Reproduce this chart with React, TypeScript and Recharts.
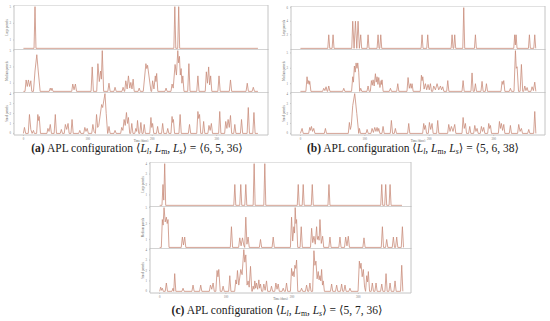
import React from 'react';
import { LineChart, Line, XAxis, YAxis, ReferenceArea } from 'recharts';

// x axis (days) shared by every panel
const dayTicks = [0, 100, 200, 300];
const dayDomain = [-14.6, 379.6];

// y tick labels
const ticks4 = [0, 1, 2, 3, 4];
const ticks5 = [0, 1, 2, 3, 4, 5];
const ticks6 = [0, 1, 2, 3, 4, 5, 6];

// (a) <6, 5, 36>  -- [day, parcels]
const aLarge = [[0,0],[16.5,0],[18,5],[19.5,0],[233.5,0],[235,5],[236.5,0],[239.5,0],[241,5],[242.5,0],[364,0]];
const aMedium = [[0,0],[2.5,0],[4.2,1.4],[6,0.6],[7.8,1.4],[9.6,0.6],[11.5,1.3],[13,0],[15.6,0],[18,2.5],[20.8,4.5],[23,2.5],[26,0],
  [40,0],[41.7,0.4],[43,0.1],[44.3,0.4],[46,0],[75,0],[76.6,0.9],[78.6,0.2],[80.7,0.9],[82.5,0],[105,0],[106.8,3.0],[108.6,0],
  [113.8,0],[115.6,3.4],[117.8,1.2],[119.8,2.5],[121,1.5],[122.4,5.0],[124.5,0],[131,0],[132.8,1.0],[134.6,0],[140.5,0],[142.2,0.5],[144,0],
  [153,0],[154.7,0.5],[156.5,0],[157.2,0],[158.9,1.3],[161,0.3],[163,1.9],[165,0.4],[166.7,1.1],[168.5,0.3],[170.3,1.5],[172,0],
  [178,0],[179.7,0.4],[181.4,0],[186,0],[190.1,3.4],[191.5,2.8],[192.7,3.2],[198,0],[199,0],[200.5,1.3],[202.6,0.3],[204.7,1.9],[205.7,1.2],[206.8,2.2],[208.6,0],
  [219.7,0],[221.4,0.4],[223,0],[229,0],[230.7,0.9],[232.5,0.4],[235.4,3.3],[237.5,2.0],[239.6,5.0],[240.9,3.5],[242.2,4.3],[243.5,2.0],[244.8,2.8],[246,1.0],[247.4,1.9],[249.2,0],
  [255,0],[256.8,3.4],[258.6,0],[269,0],[270.8,1.9],[272.6,0],[282.2,0],[283.9,2.4],[285.7,1.0],[287.5,3.0],[289,0.8],[290.6,1.9],[292.4,0],
  [301.8,0],[303.6,1.9],[305.4,0],[319.6,0],[321.4,1.4],[323.2,0],[345.6,0],[347.4,1.0],[349.2,0],[355,0],[356.8,0.5],[358.6,0],[364,0]];
const aSmall = [[0,0],[1.6,0.6],[3.5,0],[7.5,0],[9.4,1.9],[11.5,0.4],[13.5,0],[15.6,0.3],[17,0],[20.5,0],[22.4,1.9],[23.4,1.3],[24.5,1.7],[26.5,0],
  [36.5,0],[38,0.5],[39.8,0.2],[41.7,0.9],[43.5,0],[47.7,0],[49.5,1.9],[51.3,0],[57.2,0],[58.9,0.4],[60.6,0],
  [63.4,0],[65.1,0.9],[67.2,0.4],[69.3,1.0],[71,0],[73.8,0],[75.5,1.4],[77.3,0],[85.8,0],[87.5,0.3],[89.2,0],
  [93.6,0],[95.3,0.6],[97.1,0.2],[99,0.5],[100.8,0],[106,0],[107.8,0.9],[109.6,0.2],[111.7,0],[113.5,1.9],[115.3,0.6],[117,0.8],[121.4,2.9],[123,2.6],[126.6,4.0],[128.5,2.0],[130.7,0],
  [131,0],[132.8,0.7],[134.6,0],[140.5,0],[142.2,0.3],[144,0],
  [150.9,0],[152.6,0.6],[154.4,0.3],[156.3,1.4],[158,0.8],[159.9,2.1],[161.5,1.0],[163,1.6],[165,0],[166.5,0],[168.2,1.0],[170,0],
  [172.8,0],[174.5,0.5],[175.8,0.2],[177.1,1.3],[179,0],[180.6,0],[182.3,1.1],[184,0],[185.8,0],[187.5,0.9],[189.3,0],
  [196.1,0],[197.9,1.6],[199.2,0.6],[200.5,1.0],[202.3,0],[206.5,0],[208.3,0.7],[210,0],[214.4,0],[216.1,1.0],[217.9,0],[222.3,0],[224,0.5],[225.7,0],
  [229,0],[230.7,1.7],[231.7,1.1],[232.8,1.4],[234.6,0],[241.4,0],[243.2,1.9],[245,0],[256,0],[257.8,0.9],[259.6,0],
  [269,0],[270.8,2.2],[272.1,1.5],[273.4,1.9],[275.2,0],[278,0],[279.7,1.2],[281.5,0],[286.3,0],[288,0.8],[289.8,0.3],[291.7,1.0],[293.5,0],
  [303,0],[304.7,2.2],[306.5,0],[312.3,0],[314,1.2],[315.8,0.5],[317.7,1.4],[319.5,0.6],[321.4,1.8],[323.2,0],[326.4,0],[328.1,0.9],[329.8,0],
  [336.8,0],[338.5,1.4],[340.3,0],[347.2,0],[349,2.6],[350.8,0],[356,0],[357.8,2.1],[359.6,0],[364,0]];

// (b) <5, 6, 38>
const bLarge = [[0,0],[42.5,0],[44,2],[45.5,0],[49.2,0],[50.7,2],[52.2,0],
  [79.7,0],[81.2,4],[83.3,0],[85.4,4],[87.5,0],[89.5,4],[91.5,0],[93.6,2],[95.1,0],
  [103.5,0],[105,2],[106.5,0],[119,0],[120.5,2],[122,0],[123.2,0],[124.7,2],[126.2,0],
  [187.3,0],[188.8,2],[190.3,0],[196.1,0],[197.6,2],[199.1,0],[233.9,0],[235.4,2],[236.9,0],[238,0],[239.5,2],[241,0],
  [252,0],[253.5,6],[255,0],[270.1,0],[271.6,2],[273.1,0],[331.1,0],[332.6,2],[333.6,0.5],[334.7,2],[336.2,0],
  [353.9,0],[355.4,2],[356.9,0],[362.2,0],[363.7,2],[365.2,0]];
const bMedium = [[0,0],[8.5,0],[10.3,1.9],[11.6,1.0],[12.9,1.4],[13.7,0.9],[14.5,1.3],[16.3,0],
  [34.5,0],[36.2,0.4],[38,0.1],[39.8,0.6],[41.5,0],[42.3,0],[44,0.7],[45.8,0],[65.6,0],[67.3,0.4],[69,0],
  [79.4,0],[81.2,1.9],[82.3,1.2],[83.8,3.3],[85,2.5],[86.4,3.7],[87.8,3.0],[89,3.7],[90.5,2.5],[92,0],[93.6,0.4],[95.3,0],
  [103.3,0],[105,0.7],[106.7,0],[108.5,0],[110.2,1.4],[111.5,0.8],[112.8,1.5],[114.5,0.7],[116.4,2.3],[117.7,1.2],[119,1.9],[120.3,0.9],[121.6,1.8],[123.4,0.5],[125.2,1.4],[126,0.9],[126.7,1.5],[128.4,0],
  [138,0],[139.7,0.4],[141.4,0],[149.4,0],[151.1,1.0],[152.8,0],[165.4,0],[167.1,1.8],[169,0.4],[170.7,1.0],[172,0.4],[173.3,1.0],[175,0],
  [186,0],[187.8,2.1],[188.8,1.4],[189.9,1.9],[192,0.3],[194,1.0],[196,0.2],[198.1,0.9],[200,0.2],[201.8,1.0],[203.5,0],
  [205.2,0],[206.9,0.7],[209.5,0.2],[212.1,1.0],[214.7,0.2],[217.3,0.7],[219,0.2],[220.9,0.6],[222.6,0],
  [227,0],[228.7,1.4],[230.4,0],[250.8,0],[252.5,1.4],[254.2,0],[264.7,0],[266.4,2.4],[268.1,0],[269.9,0],[271.6,1.0],[273.3,0],
  [280.2,0],[281.9,1.3],[283.6,0],[287,0],[288.7,1.0],[290.4,0],[311.3,0],[313,1.3],[314.3,0.9],[315.6,1.4],[317.3,0],[324.2,0],[325.9,0.4],[327.6,0],
  [331.5,0],[333.7,5.3],[335,3.0],[336.3,3.2],[338.5,0],[341,0],[343,3.5],[345,0],
  [346.5,0],[348.2,0.7],[350,0.1],[351.8,0.5],[353.5,0],[357.8,0],[359.5,0.6],[361.6,0.1],[363.7,1.2],[365.4,0]];
const bSmall = [[0,0],[2.6,0.5],[4.4,0],[12.8,0],[14.5,0.6],[15.8,0.3],[17.1,0.7],[18.9,0.2],[20.7,0.5],[22.5,0],[37.1,0],[38.8,0.5],[40.5,0],
  [74.3,0],[76,1.1],[77.5,0.4],[79,0.8],[81.2,2.8],[84.3,4.0],[87.5,2.0],[90.5,0],[91.6,0.5],[93.3,0],[101.8,0],[103.5,0.4],[105.2,0],
  [109.5,0],[111.2,0.5],[113.3,0.1],[115.4,0.6],[117.2,0.2],[119,0.6],[120.3,0.2],[121.6,0.5],[123.3,0],[126.6,0],[128.3,0.7],[130,0],
  [139.5,0],[141.2,1.3],[143,0],[145.7,0],[147.4,0.5],[149.1,0],[166.4,0],[168.1,1.0],[169.8,0],
  [189.7,0],[191.4,1.0],[192.7,0.4],[194,0.8],[195.8,0],[198.5,0],[200.2,1.1],[202.2,0.4],[204.3,1.0],[206,0],[211.4,0],[213.1,1.3],[214.8,0],
  [228.5,0],[230.2,0.9],[232.2,0.2],[234.3,0.7],[236.8,0.2],[239.5,0.9],[241.2,0],[250.8,0],[252.5,1.6],[254.3,0.5],[256.1,1.0],[257.8,0],
  [261.1,0],[262.8,0.7],[264.5,0],[268.9,0],[270.6,0.8],[272.4,0.2],[274.2,0.5],[275.9,0],[279.2,0],[280.9,0.7],[282.7,0.2],[284.5,0.6],[286.2,0],
  [290.6,0],[292.3,1.0],[293.6,0.5],[294.9,0.8],[296.6,0],[307.2,0],[308.9,1.2],[310.4,0.5],[311.9,1.0],[313.8,0.3],[315.6,0.9],[317.3,0],
  [324.2,0],[325.9,0.8],[327.6,0],[337.1,0],[338.8,0.9],[340.9,0.2],[343,0.5],[344.7,0],[352.7,0],[354.4,0.4],[356.1,0],[362,0],[363.7,2.2],[365.4,0]];

// (c) <5, 7, 36>
const cLarge = [[0,0],[3.5,0],[5,2],[6.2,0.5],[7.6,4],[9.1,0],[112,0],[113.5,2],[115,0],[121,0],[122.5,2],[124,0],[128.6,0],[130.1,2],[131.6,0],
  [141.2,0],[142.7,4],[144.2,0],[157.3,0],[158.8,4],[160.3,0],
  [207.8,0],[209.3,2],[210.8,0],[215.3,0],[216.8,2],[218.3,0],[229,0],[230.5,2],[232,0],[254.2,0],[255.7,2],[257.2,0],
  [333.9,0],[335.4,2],[336.9,0],[339.9,0],[341.4,2],[342.9,0],[346.5,0],[348,2],[349.5,0],[366,0]];
const cMedium = [[0,0],[2.5,0],[4,3.5],[5.2,2.8],[6.6,5.0],[8.4,3.2],[10.1,3.8],[11.4,3.0],[12.6,3.5],[14.1,0],
  [32.6,0],[34.3,1.3],[36,0.3],[37.8,1.3],[39.5,0],[106.7,0],[108.4,2.6],[110.1,0],
  [119.3,0],[121,1.2],[123,0.2],[125.1,1.2],[127,0.3],[128.4,0],[130.1,3.8],[131.8,0.4],[133.6,1.3],[135.3,0],
  [150.6,0],[152.3,1.0],[154,0],[169.8,0],[171.5,1.3],[173.2,0],
  [197.5,0],[199.2,3.8],[200.9,0.8],[202.7,2.6],[203.7,1.8],[204.7,5.0],[205.8,3.0],[206.8,3.5],[208.5,0],[212.1,0],[213.8,2.6],[215.5,0],
  [227.8,0],[229.5,2.4],[231.2,0.6],[233,1.4],[235,0.4],[237,2.6],[238.2,1.0],[239.5,1.4],[240.8,0.9],[242.1,3.5],[244.1,0.5],[246.1,1.4],[247.8,0],
  [255.5,0],[257.2,1.3],[258.9,0],[270.6,0],[272.3,1.3],[274,0],[279.2,0],[280.9,1.3],[282.9,0.2],[284.9,1.4],[286.6,0],
  [306.9,0],[308.6,1.2],[310.3,0],[334.7,0],[336.4,2.6],[338.1,0],[341.2,0],[342.9,1.0],[344.6,0],
  [351.3,0],[353,1.3],[354.7,0],[356.3,0],[358,1.3],[359.7,0],[364.9,0],[366.6,2.6],[368.3,0]];
const cSmall = [[0,0],[1.5,0.4],[2.8,0.1],[4,0.3],[5.5,0],[8.4,0],[10.1,0.8],[11.8,0],[18.5,0],[20.2,0.3],[21.3,0],[22.7,1.7],[24.4,0],[33.6,0],[35.3,0.3],[37,0],
  [48.7,0],[50.4,0.6],[52.1,0],[60.3,0],[62,0.6],[63.7,0],[75,0],[76.7,0.6],[78.7,0.2],[80.7,0.8],[82.5,0],
  [84.8,0],[86.7,2.0],[88,1.4],[89.3,2.1],[91.5,0],[94.1,0],[95.8,0.5],[97.5,0],[104.2,0],[105.9,1.5],[107.6,0],
  [113.3,0],[115,1.1],[116.2,0.7],[117.5,2.0],[119.5,0.6],[122.5,2.1],[124.5,1.6],[127.1,4.0],[128.6,2.8],[130.1,3.5],[132,0.6],[133.6,1.0],[135.2,0.4],[137.2,2.4],[139.2,0],
  [139.9,0],[141.2,0.5],[142.5,0.2],[143.7,1.0],[145,0.3],[146.2,0.8],[148,0.2],[149.8,1.1],[151,0.3],[152.3,0.7],[154,0],
  [155.6,0],[157.3,0.7],[159.3,0.1],[161.4,1.0],[163.1,0],[167.2,0],[168.9,0.5],[170.6,0],[173.8,0],[175.5,0.8],[177.3,0.2],[179,0.7],[180.7,0],
  [184.9,0],[186.6,0.3],[188.3,0],[189.9,0],[191.6,0.8],[193.3,0],
  [197.5,0],[199.2,2.2],[200.5,1.5],[201.7,1.9],[203,1.4],[204.2,2.5],[205.5,2.2],[206.8,3.0],[208.6,0],[212.6,0],[214.3,0.3],[216,0],
  [220.2,0],[221.9,0.6],[223.6,0],[225.2,0],[226.9,0.8],[228.6,0],[231,0],[233,3.9],[234.5,2.5],[236,2.9],[237.8,1.2],[239.5,1.9],[240.8,1.1],[242.1,1.5],[243.4,1.0],[244.6,2.1],[245.9,0.6],[247.1,1.0],[248.8,0],
  [258,0],[259.7,0.7],[261.4,0],[265.6,0],[267.3,0.6],[269,0],[273.1,0],[274.8,0.7],[276.5,0],[278.2,0],[279.9,0.6],[281.6,0],[285.7,0],[287.4,0.3],[289.1,0],
  [299.6,0],[301.6,2.9],[302.9,2.2],[304.1,2.7],[305.9,1.4],[307.6,2.1],[309.5,0.4],[311,0],[312.7,1.5],[314,0.9],[315.2,1.9],[317,0],
  [319.5,0],[321.2,0.8],[322.9,0],[325.1,0],[326.8,0.8],[328.5,0],[333.7,0],[335.4,0.7],[337.1,0],[340.2,0],[341.9,1.7],[343.6,0],
  [346.3,0],[348,0.8],[349.7,0],[353.8,0],[355.5,1.0],[357.2,0],[363.8,0],[365.6,2.5],[367.3,0]];

const LINE = '#c98d7b';
const FRAME = '#c4c4c4';
const AXIS_W = 12;
const X_AXIS_H = 7;

const toRows = (pts: number[][]) => pts.map(([day, parcels]) => ({ day, parcels }));

interface SubplotProps {
  pts: number[][];
  top: number;
  ticks: number[];
  label: string;
  plotW: number;
  plotH: number;
  showX?: boolean;
}

const Subplot: React.FC<SubplotProps> = ({ pts, top, ticks, label, plotW, plotH, showX }) => {
  const yDomain = [-0.04 * top, 1.04 * top];
  return (
    <LineChart
      width={AXIS_W + plotW + 1}
      height={plotH + 1 + (showX ? X_AXIS_H : 0)}
      data={toRows(pts)}
      margin={{ top: 0, right: 1, bottom: 0, left: 0 }}
    >
      <XAxis
        type="number"
        dataKey="day"
        domain={dayDomain}
        allowDataOverflow
        ticks={dayTicks}
        hide={!showX}
        height={X_AXIS_H}
        tick={{ fontSize: 3, fill: '#777' }}
        tickSize={1}
        axisLine={false}
        tickLine={{ stroke: '#999', strokeWidth: 0.4 }}
        label={{ value: 'Time (days)', position: 'insideBottom', offset: 0, fontSize: 3, fill: '#666' }}
      />
      <YAxis
        type="number"
        domain={yDomain}
        allowDataOverflow
        ticks={ticks}
        width={AXIS_W}
        tick={{ fontSize: 3, fill: '#777' }}
        tickSize={1}
        axisLine={false}
        tickLine={{ stroke: '#999', strokeWidth: 0.4 }}
        label={{ value: label, angle: -90, position: 'center', dx: -1, fontSize: 3, fill: '#666' }}
      />
      <ReferenceArea
        x1={dayDomain[0]}
        x2={dayDomain[1]}
        y1={yDomain[0]}
        y2={yDomain[1]}
        fill="none"
        stroke={FRAME}
        strokeWidth={1}
        ifOverflow="visible"
      />
      <Line
        type="linear"
        dataKey="parcels"
        stroke={LINE}
        strokeWidth={0.8}
        dot={false}
        isAnimationActive={false}
      />
    </LineChart>
  );
};

interface PanelProps {
  left: number;
  plotW: number;
  tops: number[];
  heights: number[];
  series: number[][][];
  yTops: number[];
  yTicks: number[][];
}

const labels = ['Large parcels', 'Medium parcels', 'Small parcels'];

const Panel: React.FC<PanelProps> = ({ left, plotW, tops, heights, series, yTops, yTicks }) => (
  <>
    {series.map((pts, i) => (
      <div key={i} style={{ position: 'absolute', left: left - AXIS_W, top: tops[i] }}>
        <Subplot
          pts={pts}
          top={yTops[i]}
          ticks={yTicks[i]}
          label={labels[i]}
          plotW={plotW}
          plotH={heights[i]}
          showX={i === 2}
        />
      </div>
    ))}
  </>
);

const Caption: React.FC<{ tag: string; vals: string; center: number; top: number }> = ({ tag, vals, center, top }) => {
  const sub: React.CSSProperties = { fontSize: '0.68em', verticalAlign: '-0.3em', lineHeight: 0 };
  return (
    <div
      style={{
        position: 'absolute',
        left: center - 150,
        top,
        width: 300,
        textAlign: 'center',
        fontFamily: '"Liberation Serif", "DejaVu Serif", serif',
        fontSize: 11.5,
        lineHeight: '13px',
        color: '#222',
        whiteSpace: 'nowrap',
      }}
    >
      <b>({tag})</b> APL configuration {'\u27E8'}<i>L</i><sub style={sub}><i>l</i></sub>, <i>L</i>
      <sub style={sub}>m</sub>, <i>L</i><sub style={sub}><i>s</i></sub>{'\u27E9'} = {'\u27E8'}{vals}{'\u27E9'}
    </div>
  );
};

export default function App() {
  return (
    <div style={{ position: 'absolute', left: 0, top: 0, width: 550, height: 321, background: '#fff', overflow: 'hidden' }}>
      <Panel
        left={14}
        plotW={254}
        tops={[5, 49, 92]}
        heights={[44, 43, 42]}
        series={[aLarge, aMedium, aSmall]}
        yTops={[5, 5, 4]}
        yTicks={[ticks5, ticks5, ticks4]}
      />
      <Panel
        left={291}
        plotW={254}
        tops={[6, 49, 92]}
        heights={[43, 43, 42]}
        series={[bLarge, bMedium, bSmall]}
        yTops={[6, 5.3, 4]}
        yTicks={[ticks6, ticks5, ticks4]}
      />
      <Panel
        left={150}
        plotW={261}
        tops={[162, 206, 248]}
        heights={[44, 42, 44]}
        series={[cLarge, cMedium, cSmall]}
        yTops={[4, 5, 4]}
        yTicks={[ticks4, ticks5, ticks4]}
      />
      <Caption tag="a" vals="6, 5, 36" center={137} top={142} />
      <Caption tag="b" vals="5, 6, 38" center={413} top={142} />
      <Caption tag="c" vals="5, 7, 36" center={277} top={304} />
    </div>
  );
}
